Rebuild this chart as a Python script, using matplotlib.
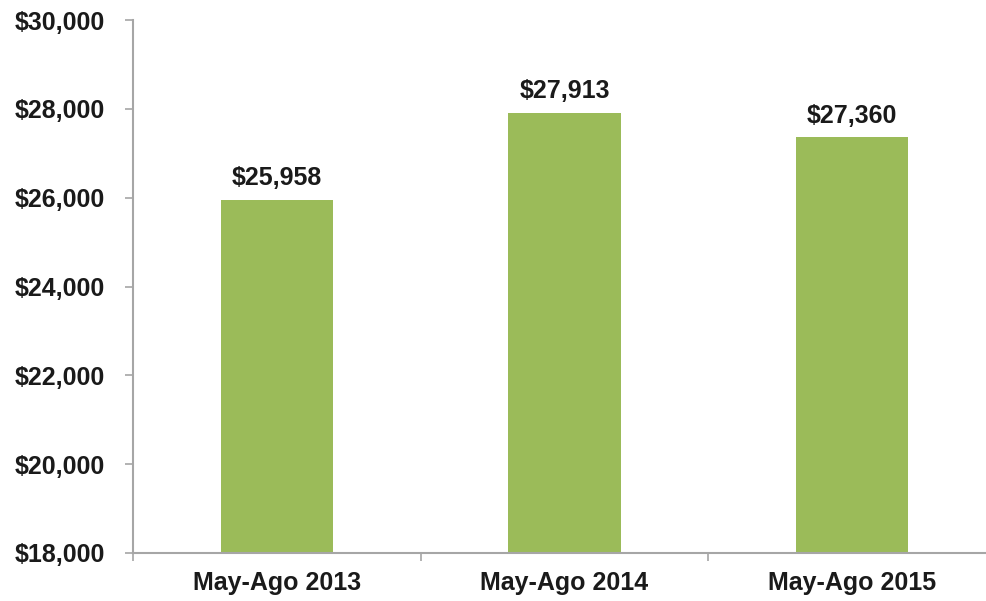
import numpy as np
import matplotlib.pyplot as plt
from matplotlib.ticker import FuncFormatter, FixedLocator

categories = ['May-Ago 2013', 'May-Ago 2014', 'May-Ago 2015']
values = [25958, 27913, 27360]
y_ticks = [18000, 20000, 22000, 24000, 26000, 28000, 30000]

plt.rcParams['font.family'] = ['Liberation Sans', 'DejaVu Sans']
plt.rcParams['font.weight'] = 'bold'

fig = plt.figure(figsize=(9.86, 6.01), dpi=100)
ax = fig.add_axes([133 / 986, 48 / 601, 1 - 133 / 986, 533 / 601])

x = np.arange(len(categories))
ax.bar(x, values, width=0.39, color='#9bbb59', zorder=2)

for xi, v in zip(x, values):
    ax.annotate('${:,}'.format(v), (xi, v), xytext=(0, 7), textcoords='offset points',
                ha='center', va='bottom', fontsize=18, fontweight='bold', color='#1a1a1a')

ax.set_ylim(18000, 30000)
ax.set_xlim(-0.5, 2.465)
ax.yaxis.set_major_locator(FixedLocator(y_ticks))
ax.yaxis.set_major_formatter(FuncFormatter(lambda v, p: '${:,.0f}'.format(v)))

# ticks at category boundaries, labels at centres
ax.xaxis.set_major_locator(FixedLocator([-0.5, 0.5, 1.5]))
ax.xaxis.set_major_formatter(FuncFormatter(lambda v, p: ''))
ax.xaxis.set_minor_locator(FixedLocator(x))
ax.set_xticklabels(categories, minor=True)

ax.tick_params(axis='x', which='major', length=6, width=1.2, color='#a6a6a6', direction='out')
ax.tick_params(axis='x', which='minor', length=0, pad=13, labelsize=18, labelcolor='#1a1a1a')
ax.tick_params(axis='y', length=6, width=1.2, color='#a6a6a6', pad=14, labelsize=18, labelcolor='#1a1a1a')

for s in ['top', 'right']:
    ax.spines[s].set_visible(False)
for s in ['left', 'bottom']:
    ax.spines[s].set_color('#a6a6a6')
    ax.spines[s].set_linewidth(1.5)

fig.savefig('out.png', dpi=100)
